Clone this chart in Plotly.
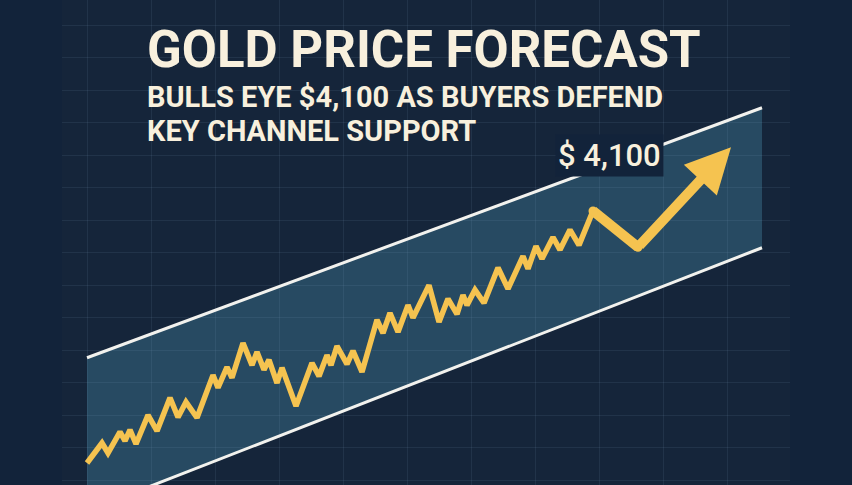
'''
    Gold price forecast illustration: rising channel with a price path
    and an arrow pointing to the $4,100 target.
'''

import plotly.graph_objects as go

# price path (trading days from start, price in USD)
days = [0, 3, 4.2, 6.6, 7.6, 8.6, 9.8, 12.2, 14, 16.6, 18.2, 19.8, 22, 25.2,
        26.2, 28, 29, 31.2, 33, 34, 35.4, 36.4, 38, 39, 41.8, 45, 46.4, 48,
        48.8, 50, 52, 53.2, 55, 58, 59.2, 60.6, 62.2, 64.2, 65.2, 68.4, 70.4,
        72.2, 74, 75.2, 76, 77.6, 79.4, 82.2, 84.2, 87.2, 88.2, 89.8, 91,
        93.2, 94.6, 96.6, 98.4, 101.2]
prices = [3500, 3538, 3519, 3559, 3542, 3563, 3536, 3591, 3561, 3624, 3587,
          3616, 3586, 3667, 3643, 3682, 3662, 3728, 3686, 3711, 3677, 3696,
          3652, 3681, 3608, 3690, 3665, 3705, 3686, 3722, 3688, 3713, 3673,
          3772, 3747, 3785, 3749, 3800, 3776, 3838, 3768, 3812, 3783, 3819,
          3800, 3829, 3804, 3871, 3831, 3893, 3869, 3912, 3888, 3929, 3905,
          3943, 3914, 3979]

# last pullback before the breakout and the forecast target
pullback_day, pullback_price = 110.2, 3910
target_day, target_price = 128.8, 4100

# ascending channel
chan_days = [0, 135]
chan_upper = [3700, 4175]
chan_lower = [3409, 3909]

BG = '#12233a'
GOLD = '#f5c350'
CREAM = '#f8f0dd'
FONT = 'Roboto, sans-serif'

fig = go.Figure()

# channel body, drawn below the grid so the grid shows through
channel_path = (f'M {chan_days[0]},{chan_lower[0]} L {chan_days[0]},{chan_upper[0]} '
                f'L {chan_days[1]},{chan_upper[1]} L {chan_days[1]},{chan_lower[1]} Z')
fig.add_shape(type='path', path=channel_path, xref='x', yref='y',
              fillcolor='#274a62', line_width=0, layer='below')

for bound in (chan_upper, chan_lower):
    fig.add_trace(go.Scatter(x=chan_days, y=bound, mode='lines',
                             line=dict(color='#f2f2ee', width=3),
                             hoverinfo='skip'))

fig.add_trace(go.Scatter(x=days, y=prices, mode='lines',
                         line=dict(color=GOLD, width=5.5), hoverinfo='skip'))
fig.add_trace(go.Scatter(x=[days[-1], pullback_day], y=[prices[-1], pullback_price],
                         mode='lines+markers',
                         line=dict(color=GOLD, width=10),
                         marker=dict(color=GOLD, size=9), hoverinfo='skip'))

# breakout arrow to the target
fig.add_annotation(x=target_day, y=target_price, ax=pullback_day, ay=pullback_price,
                   xref='x', yref='y', axref='x', ayref='y', text='',
                   showarrow=True, arrowhead=2, arrowsize=0.9, arrowwidth=10,
                   arrowcolor=GOLD, standoff=0)

# target label
fig.add_annotation(x=0.7527, y=0.6804, xref='paper', yref='paper',
                   xanchor='center', yanchor='middle',
                   text=f'$ {target_price:,}', showarrow=False,
                   font=dict(family=FONT, size=31, color=CREAM, weight=500),
                   bgcolor=BG, borderpad=2)

# headline
fig.add_annotation(x=0.1154, y=0.897, xref='paper', yref='paper',
                   xanchor='left', yanchor='middle', showarrow=False,
                   text='<b>GOLD PRICE FORECAST</b>', borderpad=0,
                   font=dict(family=FONT, size=51, color=CREAM))
fig.add_annotation(x=0.1154, y=0.800, xref='paper', yref='paper',
                   xanchor='left', yanchor='middle', showarrow=False,
                   text='<b>BULLS EYE $4,100 AS BUYERS DEFEND</b>', borderpad=0,
                   font=dict(family=FONT, size=29, color=CREAM))
fig.add_annotation(x=0.1154, y=0.729, xref='paper', yref='paper',
                   xanchor='left', yanchor='middle', showarrow=False,
                   text='<b>KEY CHANNEL SUPPORT</b>', borderpad=0,
                   font=dict(family=FONT, size=29, color=CREAM))

grid = 'rgba(120,160,190,0.12)'
fig.update_layout(
    width=852, height=485,
    margin=dict(l=62, r=62, t=0, b=0, pad=0),
    paper_bgcolor=BG, plot_bgcolor='#15253a',
    showlegend=False,
    xaxis=dict(range=[-5, 140.6], tick0=0, dtick=12.8, showgrid=True,
               gridcolor=grid, gridwidth=1, zeroline=False,
               showticklabels=False, ticks='', fixedrange=True),
    yaxis=dict(range=[3458.2, 4379.7], tick0=4085.2, dtick=61.75, showgrid=True,
               gridcolor=grid, gridwidth=1, zeroline=False,
               showticklabels=False, ticks='', fixedrange=True),
)

fig.write_html('out.html', config={'displayModeBar': False},
               post_script="document.body.style.margin='0';")
